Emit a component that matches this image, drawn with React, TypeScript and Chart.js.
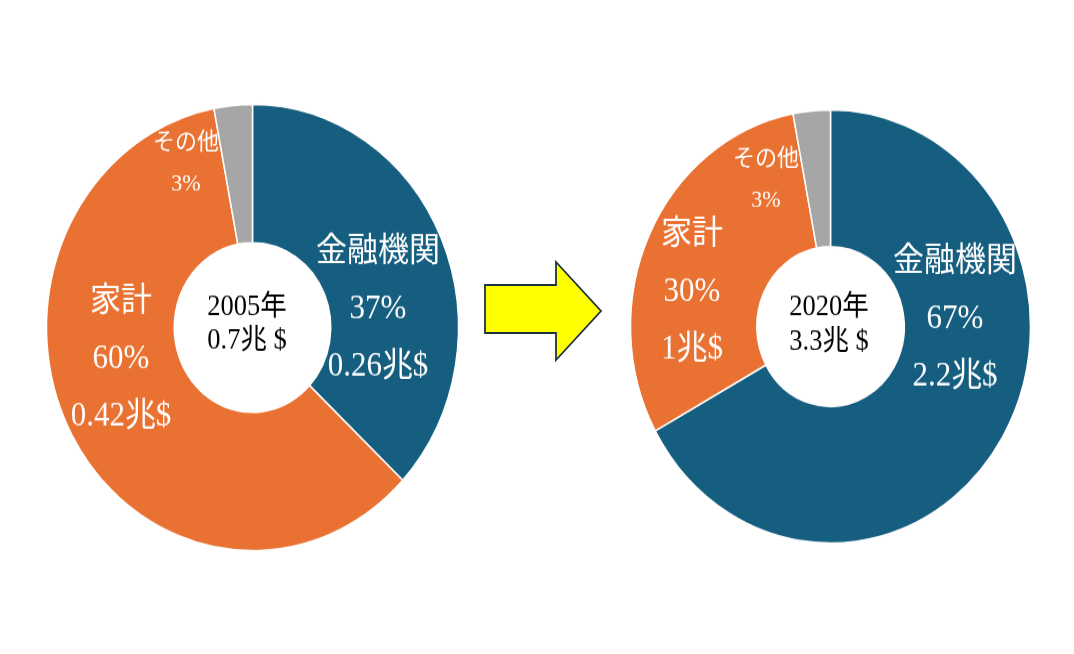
import React, { useEffect, useRef } from "react";
import { Chart, registerables } from "chart.js";

Chart.register(...registerables);

// ---- data ----
const categories = ["金融機関", "家計", "その他"];
const share2005 = [37, 60, 3];
const share2020 = [67, 30, 3];
const amount2005 = ["0.26兆$", "0.42兆$", ""];
const amount2020 = ["2.2兆$", "1兆$", ""];
const years = ["2005年", "2020年"];
const totals = ["0.7兆 $", "3.3兆 $"];
const colors = ["#165E7F", "#E97132", "#A6A6A6"];

// ---- style / layout ----
const FONT = '"Liberation Serif", "Times New Roman", "Noto Sans CJK JP", serif';
const STRETCH_Y = 1.083;

type Cfg = {
  values: number[];
  amounts: string[];
  year: string;
  total: string;
  canvasLeft: number;
  canvasTop: number;
  radius: number;
  cutout: number;
  offsets: [number, number][]; // label block offsets per slice
  centerOffset: [number, number];
};

const charts: Cfg[] = [
  {
    values: share2005,
    amounts: amount2005,
    year: years[0],
    total: totals[0],
    canvasLeft: 32,
    canvasTop: 107,
    radius: 206,
    cutout: 83.5,
    offsets: [
      [125.5, -16.5],
      [-131.5, 29],
      [-66.5, -151.5],
    ],
    centerOffset: [-5.5, -3.2],
  },
  {
    values: share2020,
    amounts: amount2020,
    year: years[1],
    total: totals[1],
    canvasLeft: 610,
    canvasTop: 106,
    radius: 200,
    cutout: 81,
    offsets: [
      [124.5, -7],
      [-138.5, -32],
      [-64.5, -135],
    ],
    centerOffset: [-1.5, -1.4],
  },
];

const SIZE = 441;

function drawLines(
  ctx: CanvasRenderingContext2D,
  lines: string[],
  x: number,
  y: number,
  size: number,
  gap: number,
  color: string
) {
  ctx.save();
  ctx.font = `${size}px ${FONT}`;
  ctx.fillStyle = color;
  ctx.textAlign = "center";
  ctx.textBaseline = "middle";
  const start = y - ((lines.length - 1) * gap) / 2;
  lines.forEach((l, i) => ctx.fillText(l, x, start + i * gap));
  ctx.restore();
}

function Doughnut({ cfg }: { cfg: Cfg }) {
  const ref = useRef<HTMLCanvasElement | null>(null);
  useEffect(() => {
    if (!ref.current) return;
    const labelPlugin = {
      id: "sliceLabels",
      afterDraw(chart: any) {
        const ctx = chart.ctx as CanvasRenderingContext2D;
        const meta = chart.getDatasetMeta(0);
        meta.data.forEach((arc: any, i: number) => {
          const [dx, dy] = cfg.offsets[i];
          const lines = [categories[i], `${cfg.values[i]}%`];
          if (cfg.amounts[i]) lines.push(cfg.amounts[i]);
          const small = i === 2;
          drawLines(
            ctx,
            lines,
            arc.x + dx,
            arc.y + dy,
            small ? 22 : 31,
            small ? 38 : 53,
            "#FFFFFF"
          );
        });
        const a0 = meta.data[0];
        drawLines(
          ctx,
          [cfg.year, cfg.total],
          a0.x + cfg.centerOffset[0],
          a0.y + cfg.centerOffset[1],
          26.5,
          31.5,
          "#000000"
        );
      },
    };
    const chart = new Chart(ref.current, {
      type: "doughnut",
      data: {
        labels: categories,
        datasets: [
          {
            data: cfg.values,
            backgroundColor: colors,
            borderColor: "#FFFFFF",
            borderWidth: 1.5,
          },
        ],
      },
      options: {
        responsive: false,
        animation: false,
        radius: cfg.radius,
        cutout: cfg.cutout,
        rotation: 0,
        layout: { padding: 0 },
        plugins: {
          legend: { display: false },
          tooltip: { enabled: false },
        },
      } as any,
      plugins: [labelPlugin],
    });
    return () => chart.destroy();
  }, [cfg]);
  return (
    <canvas
      ref={ref}
      width={SIZE}
      height={SIZE}
      style={{
        position: "absolute",
        left: cfg.canvasLeft,
        top: cfg.canvasTop,
        width: SIZE,
        height: SIZE,
        transform: `scaleY(${STRETCH_Y})`,
        transformOrigin: "50% 50%",
      }}
    />
  );
}

export default function App() {
  return (
    <div
      style={{
        position: "absolute",
        left: 0,
        top: 0,
        width: 1074,
        height: 654,
        background: "#FFFFFF",
        overflow: "hidden",
      }}
    >
      {charts.map((c, i) => (
        <Doughnut key={i} cfg={c} />
      ))}
      <svg
        width={1074}
        height={654}
        style={{ position: "absolute", left: 0, top: 0, pointerEvents: "none" }}
      >
        <polygon
          points="485,285 556,285 556,262 601,311 556,360 556,333 485,333"
          fill="#FFFF00"
          stroke="#1E3342"
          strokeWidth={1.8}
          strokeLinejoin="miter"
        />
      </svg>
    </div>
  );
}
